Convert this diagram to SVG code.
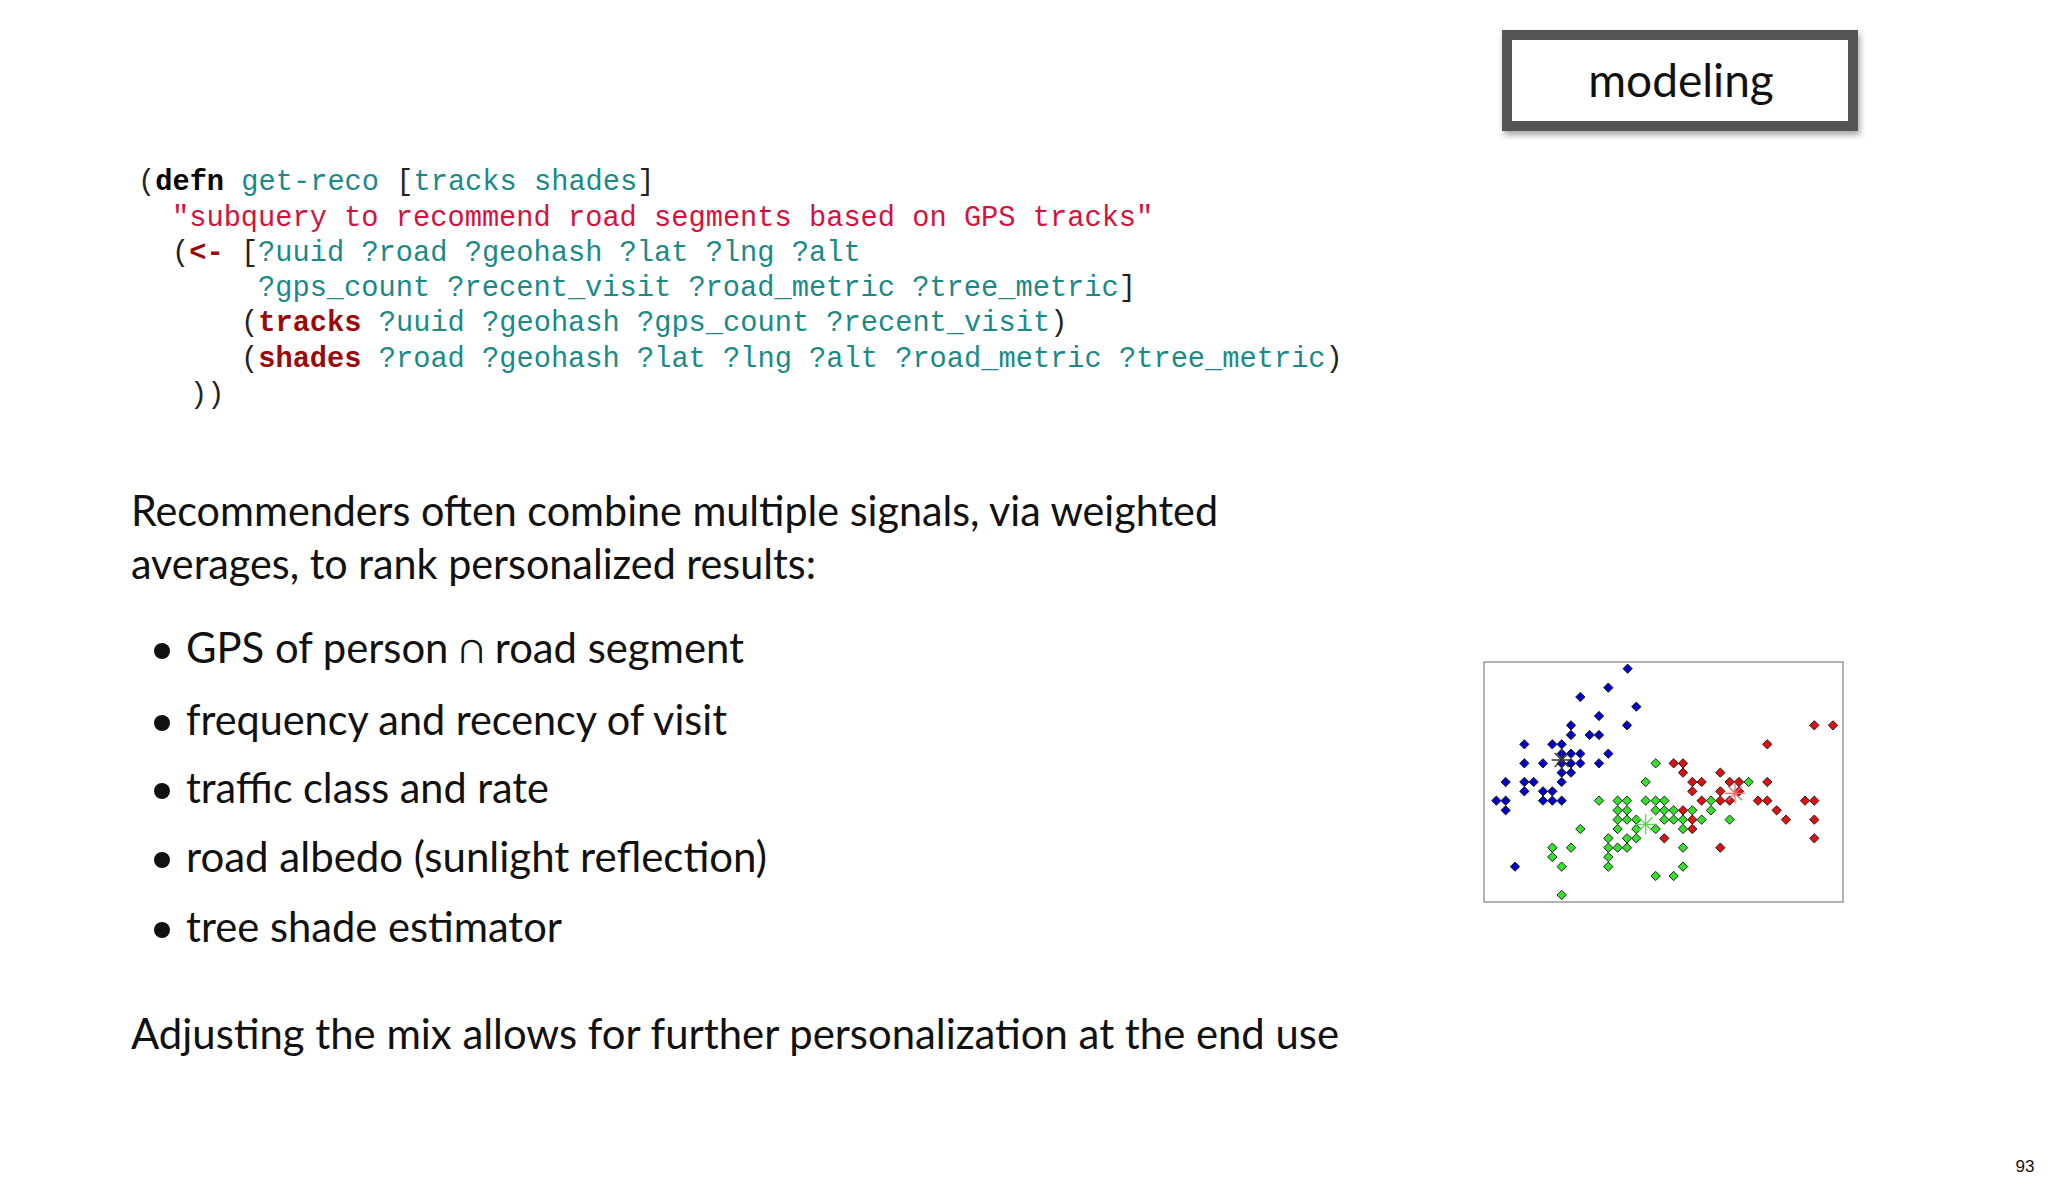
<svg xmlns="http://www.w3.org/2000/svg" width="2048" height="1184" viewBox="0 0 2048 1184">
<style>
.c{font-family:"Liberation Mono",monospace;font-size:28.7px;fill:#1a8a86}
.k{font-weight:bold;fill:#000}
.s{fill:#d3123e}
.r{font-weight:bold;fill:#9a0a0a}
.p{fill:#222}
.t{font-family:Lato,"Open Sans",sans-serif;font-size:42px;fill:#111}
.b{fill:#0000c8}.g{fill:#33e02a}.d{fill:#e01010}
</style>
<defs>
<path id="dm" d="M0,-14L14,0L0,14L-14,0Z" stroke="#222" stroke-width="3"/>
<filter id="sh" x="-10%" y="-10%" width="130%" height="140%"><feDropShadow dx="2" dy="4" stdDeviation="3" flood-color="#000" flood-opacity="0.35"/></filter>
</defs>
<rect width="2048" height="1184" fill="#fff"/>
<g id="title">
<rect x="1507" y="35" width="346" height="91" fill="#fff" stroke="#555" stroke-width="10" filter="url(#sh)"/>
<text x="1681" y="97" text-anchor="middle" font-family="Lato,sans-serif" font-size="46" fill="#111">modeling</text>
</g>
<g id="code" class="c" xml:space="preserve">
<text x="138" y="190"><tspan class="p">(</tspan><tspan class="k">defn</tspan> get-reco <tspan class="p">[</tspan>tracks shades<tspan class="p">]</tspan></text>
<text x="172" y="226" class="s">"subquery to recommend road segments based on GPS tracks"</text>
<text x="172" y="261"><tspan class="p">(</tspan><tspan class="r">&lt;-</tspan> <tspan class="p">[</tspan>?uuid ?road ?geohash ?lat ?lng ?alt</text>
<text x="258" y="296">?gps_count ?recent_visit ?road_metric ?tree_metric<tspan class="p">]</tspan></text>
<text x="241" y="331"><tspan class="p">(</tspan><tspan class="r">tracks</tspan> ?uuid ?geohash ?gps_count ?recent_visit<tspan class="p">)</tspan></text>
<text x="241" y="367"><tspan class="p">(</tspan><tspan class="r">shades</tspan> ?road ?geohash ?lat ?lng ?alt ?road_metric ?tree_metric<tspan class="p">)</tspan></text>
<text x="190" y="403" class="p">))</text>
</g>
<g id="body" class="t">
<text x="131" y="526" textLength="1087" lengthAdjust="spacingAndGlyphs">Recommenders often combine multiple signals, via weighted</text>
<text x="131" y="579" textLength="685" lengthAdjust="spacingAndGlyphs">averages, to rank personalized results:</text>
<g fill="#111"><circle cx="162" cy="651" r="8"/><circle cx="162" cy="723" r="8"/><circle cx="162" cy="791" r="8"/><circle cx="162" cy="860" r="8"/><circle cx="162" cy="930" r="8"/></g>
<text x="186" y="663" textLength="558" lengthAdjust="spacingAndGlyphs">GPS of person ∩ road segment</text>
<text x="186" y="735" textLength="541" lengthAdjust="spacingAndGlyphs">frequency and recency of visit</text>
<text x="186" y="803" textLength="363" lengthAdjust="spacingAndGlyphs">traffic class and rate</text>
<text x="186" y="872" textLength="581" lengthAdjust="spacingAndGlyphs">road albedo (sunlight reflection)</text>
<text x="186" y="942" textLength="376" lengthAdjust="spacingAndGlyphs">tree shade estimator</text>
<text x="131" y="1049" textLength="1208" lengthAdjust="spacingAndGlyphs">Adjusting the mix allows for further personalization at the end use</text>
</g>
<text x="2025" y="1172" text-anchor="middle" font-family="Liberation Sans,sans-serif" font-size="17" fill="#111">93</text>
<g id="plot">
<rect x="1484" y="662" width="359" height="240" fill="#fff" stroke="#999" stroke-width="1.5"/>
<g transform="translate(1480,655) scale(0.3333)">
<g class="b">
<use href="#dm" x="443" y="41"/><use href="#dm" x="385" y="98"/><use href="#dm" x="301" y="126"/><use href="#dm" x="469" y="155"/><use href="#dm" x="357" y="183"/><use href="#dm" x="441" y="211"/><use href="#dm" x="273" y="211"/><use href="#dm" x="273" y="240"/><use href="#dm" x="329" y="240"/><use href="#dm" x="357" y="240"/><use href="#dm" x="133" y="268"/><use href="#dm" x="217" y="268"/><use href="#dm" x="245" y="268"/><use href="#dm" x="245" y="296"/><use href="#dm" x="273" y="296"/><use href="#dm" x="301" y="296"/><use href="#dm" x="385" y="296"/><use href="#dm" x="133" y="325"/><use href="#dm" x="189" y="325"/><use href="#dm" x="245" y="325"/><use href="#dm" x="273" y="325"/><use href="#dm" x="301" y="325"/><use href="#dm" x="357" y="325"/><use href="#dm" x="245" y="353"/><use href="#dm" x="273" y="353"/><use href="#dm" x="77" y="381"/><use href="#dm" x="133" y="381"/><use href="#dm" x="161" y="381"/><use href="#dm" x="245" y="381"/><use href="#dm" x="133" y="409"/><use href="#dm" x="189" y="409"/><use href="#dm" x="217" y="409"/><use href="#dm" x="49" y="437"/><use href="#dm" x="77" y="437"/><use href="#dm" x="189" y="437"/><use href="#dm" x="217" y="437"/><use href="#dm" x="245" y="437"/><use href="#dm" x="77" y="466"/><use href="#dm" x="105" y="635"/>
</g>
<g class="g">
<use href="#dm" x="527" y="325"/><use href="#dm" x="497" y="381"/><use href="#dm" x="806" y="381"/><use href="#dm" x="357" y="437"/><use href="#dm" x="413" y="437"/><use href="#dm" x="441" y="437"/><use href="#dm" x="497" y="437"/><use href="#dm" x="527" y="437"/><use href="#dm" x="553" y="437"/><use href="#dm" x="693" y="437"/><use href="#dm" x="413" y="466"/><use href="#dm" x="441" y="466"/><use href="#dm" x="527" y="466"/><use href="#dm" x="553" y="466"/><use href="#dm" x="581" y="466"/><use href="#dm" x="637" y="466"/><use href="#dm" x="693" y="466"/><use href="#dm" x="413" y="494"/><use href="#dm" x="441" y="494"/><use href="#dm" x="469" y="494"/><use href="#dm" x="553" y="494"/><use href="#dm" x="581" y="494"/><use href="#dm" x="609" y="494"/><use href="#dm" x="665" y="494"/><use href="#dm" x="749" y="494"/><use href="#dm" x="301" y="522"/><use href="#dm" x="413" y="522"/><use href="#dm" x="469" y="522"/><use href="#dm" x="527" y="522"/><use href="#dm" x="609" y="522"/><use href="#dm" x="385" y="550"/><use href="#dm" x="441" y="550"/><use href="#dm" x="469" y="550"/><use href="#dm" x="217" y="578"/><use href="#dm" x="273" y="578"/><use href="#dm" x="385" y="578"/><use href="#dm" x="413" y="578"/><use href="#dm" x="441" y="578"/><use href="#dm" x="609" y="578"/><use href="#dm" x="217" y="606"/><use href="#dm" x="385" y="606"/><use href="#dm" x="245" y="635"/><use href="#dm" x="385" y="635"/><use href="#dm" x="609" y="635"/><use href="#dm" x="527" y="663"/><use href="#dm" x="581" y="663"/><use href="#dm" x="245" y="720"/>
</g>
<g class="d">
<use href="#dm" x="1003" y="211"/><use href="#dm" x="1059" y="211"/><use href="#dm" x="862" y="268"/><use href="#dm" x="581" y="325"/><use href="#dm" x="609" y="325"/><use href="#dm" x="609" y="353"/><use href="#dm" x="721" y="353"/><use href="#dm" x="637" y="381"/><use href="#dm" x="665" y="381"/><use href="#dm" x="749" y="381"/><use href="#dm" x="777" y="381"/><use href="#dm" x="862" y="381"/><use href="#dm" x="637" y="409"/><use href="#dm" x="721" y="409"/><use href="#dm" x="777" y="409"/><use href="#dm" x="665" y="437"/><use href="#dm" x="721" y="437"/><use href="#dm" x="749" y="437"/><use href="#dm" x="834" y="437"/><use href="#dm" x="862" y="437"/><use href="#dm" x="975" y="437"/><use href="#dm" x="1003" y="437"/><use href="#dm" x="609" y="466"/><use href="#dm" x="890" y="466"/><use href="#dm" x="637" y="494"/><use href="#dm" x="918" y="494"/><use href="#dm" x="1003" y="494"/><use href="#dm" x="637" y="522"/><use href="#dm" x="553" y="550"/><use href="#dm" x="1003" y="550"/><use href="#dm" x="721" y="578"/>
</g>
<g stroke-width="4" fill="none">
<path d="M215,315H275M245,285V345M224,294L266,336M224,336L266,294" stroke="#333"/>
<path d="M467,508H527M497,478V538M476,487L518,529M476,529L518,487" stroke="#5ad65a"/>
<path d="M735,415H795M765,385V445M744,394L786,436M744,436L786,394" stroke="#f07070"/>
</g>
</g>
</g>
</svg>
